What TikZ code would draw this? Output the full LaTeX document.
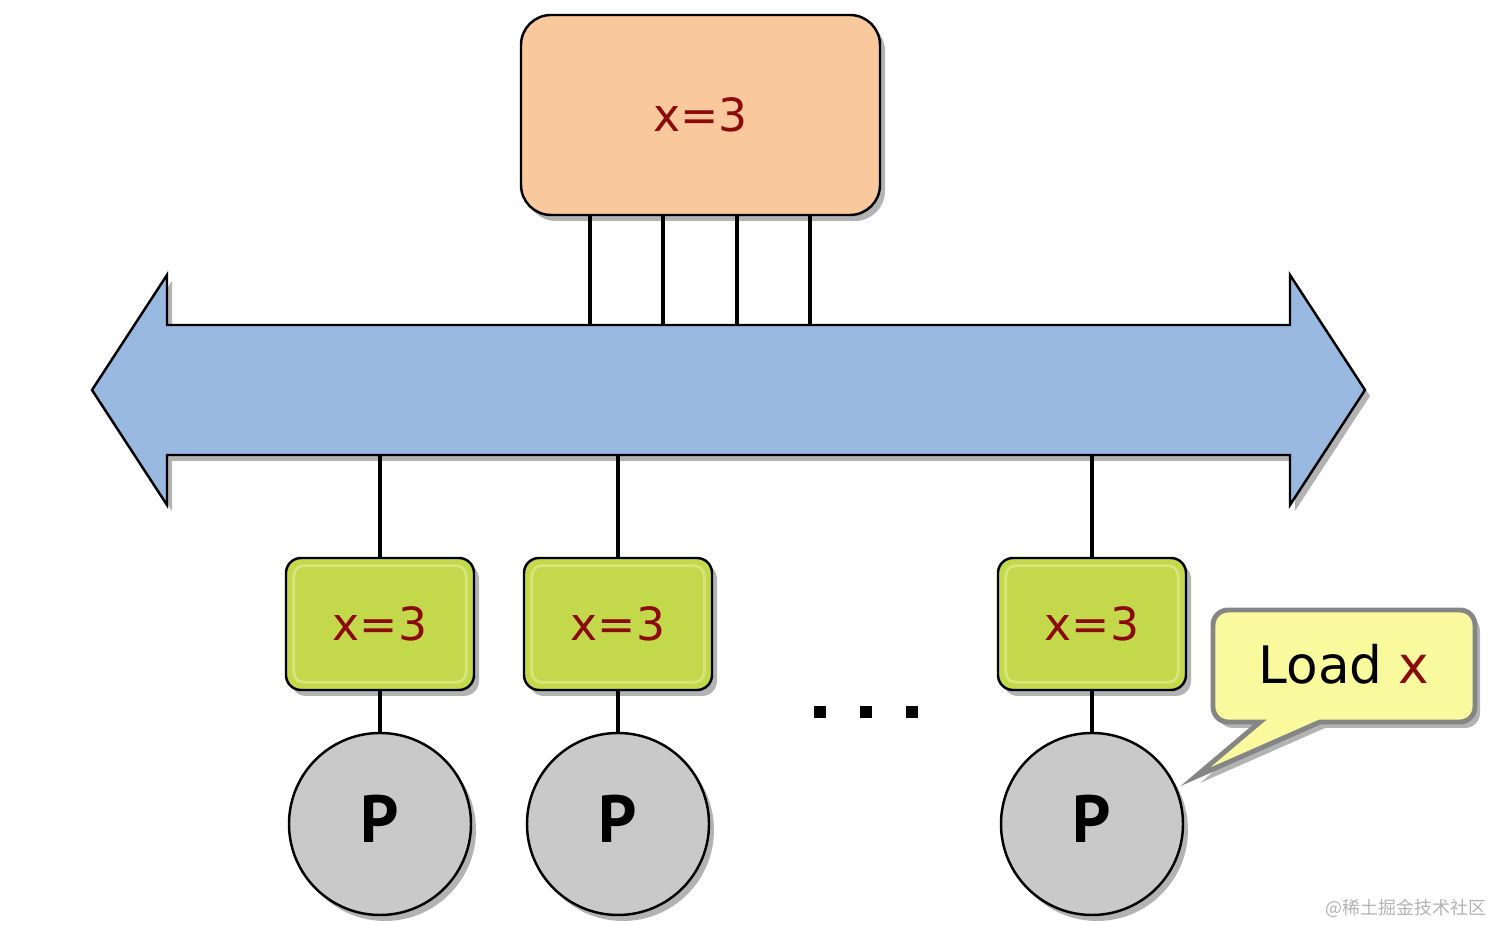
\documentclass[tikz,border=0pt]{standalone}
\usepackage{fontspec}
\setmainfont{DejaVu Sans}
\newfontfamily\pfont{PT Sans}
\newfontfamily\cjk{Noto Sans CJK SC}
\usetikzlibrary{shadows,calc}
\definecolor{memfill}{HTML}{F9C89C}
\definecolor{busfill}{HTML}{99B9E1}
\definecolor{cachefill}{HTML}{C3D84B}
\definecolor{cacheline}{HTML}{D6E67A}
\definecolor{procfill}{HTML}{C9C9C9}
\definecolor{notefill}{HTML}{F9F99D}
\definecolor{noteline}{HTML}{858585}
\definecolor{valred}{HTML}{8B0A0A}

\begin{document}
\begin{tikzpicture}[
    wire/.style={line width=1.3pt},
    dropsh/.style={drop shadow={shadow xshift=0.5mm,shadow yshift=-0.6mm,opacity=0.6}},
    memblock/.style={draw,line width=0.7pt,fill=memfill,rounded corners=0.3cm,
        minimum width=3.59cm,minimum height=2cm,dropsh,
        font=\fontsize{13}{15}\selectfont,text=valred},
    cacheblock/.style={draw,line width=0.7pt,fill=cachefill,rounded corners=0.15cm,
        minimum width=1.88cm,minimum height=1.32cm,dropsh,
        font=\fontsize{13}{15}\selectfont,text=valred},
    procnode/.style={circle,draw,line width=0.7pt,fill=procfill,minimum size=1.82cm,
        dropsh,font=\pfont\fontsize{19}{21}\selectfont\bfseries}]
    \useasboundingbox (0,0) rectangle (15.12,-9.45);

    \filldraw[fill=busfill,line width=0.7pt,dropsh] (0.92,-3.90) -- (1.67,-2.75) -- (1.67,-3.25)
        -- (12.90,-3.25) -- (12.90,-2.75) -- (13.65,-3.90) -- (12.90,-5.05) -- (12.90,-4.55)
        -- (1.67,-4.55) -- (1.67,-5.05) -- cycle;
    \coordinate (bustop) at (7,-3.25);
    \coordinate (busbot) at (7,-4.55);

    \node[memblock] (mem) at (7.005,-1.15) {\raisebox{-0.4mm}{x=3}};
    \foreach \x in {5.90,6.63,7.37,8.10}
        \draw[wire] (\x,0 |- mem.south) -- (\x,0 |- bustop);

    \node[cacheblock] (c1) at (3.80,-6.24) {x=3};
    \node[cacheblock] (c2) at (6.18,-6.24) {x=3};
    \node[cacheblock] (c3) at (10.92,-6.24) {x=3};
    \foreach \c in {c1,c2,c3}
        \draw[cacheline,line width=0.8pt,rounded corners=0.1cm]
            ([shift={(0.09,-0.09)}]\c.north west) rectangle ([shift={(-0.09,0.09)}]\c.south east);

    \node[procnode] (p1) at (3.80,-8.24) {\raisebox{1mm}{P}};
    \node[procnode] (p2) at (6.18,-8.24) {\raisebox{1mm}{P}};
    \node[procnode] (p3) at (10.92,-8.24) {\raisebox{1mm}{P}};

    \draw[wire] (c1.north) -- (c1.north |- busbot);
    \draw[wire] (c2.north) -- (c2.north |- busbot);
    \draw[wire] (c3.north) -- (c3.north |- busbot);
    \draw[wire] (c1.south) -- (p1.north);
    \draw[wire] (c2.south) -- (p2.north);
    \draw[wire] (c3.south) -- (p3.north);

    \foreach \x in {8.20,8.66,9.12}
        \fill (\x-0.06,-7.06) rectangle ++(0.12,-0.12);

    \coordinate (tip) at (11.95,-7.77);
    \filldraw[fill=notefill,draw=noteline,line width=1.4pt,dropsh] (tip) -- (13.20,-7.22)
        [rounded corners=0.15cm] -- (14.75,-7.22) -- (14.75,-6.10) -- (12.13,-6.10)
        -- (12.13,-7.22) [sharp corners] -- (12.60,-7.22) -- cycle;
    \node[font=\fontsize{14.7}{17}\selectfont] (note) at (13.44,-6.64) {Load \textcolor{valred}{x}};

    \node[text=gray!60,font=\cjk\fontsize{5.1}{6}\selectfont,anchor=east,inner sep=0pt] (mark) at (14.87,-9.08) {@稀土掘金技术社区};
\end{tikzpicture}
\end{document}
